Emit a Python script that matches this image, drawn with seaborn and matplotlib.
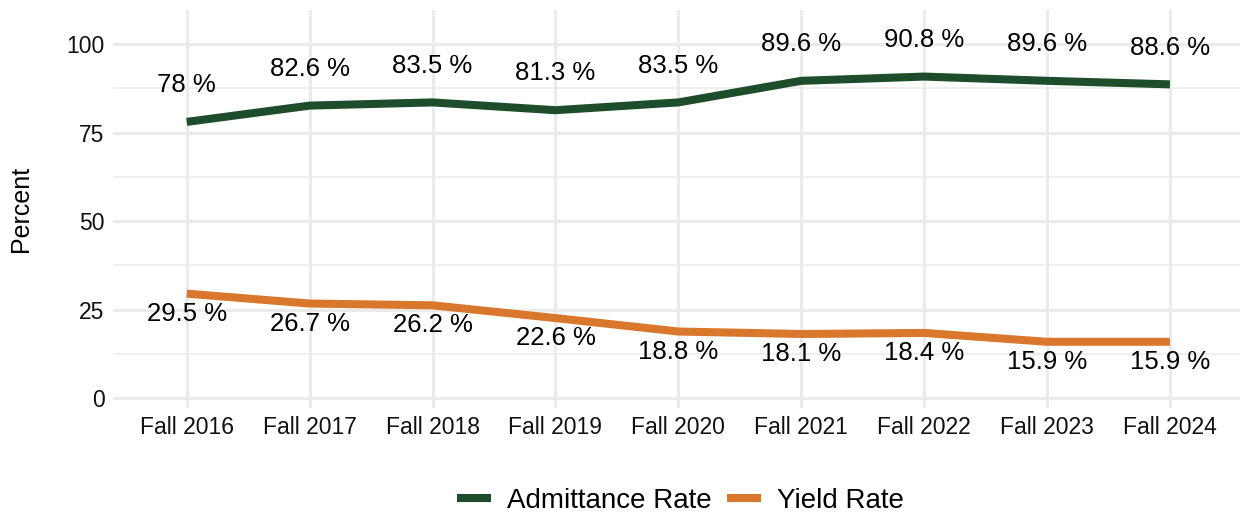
import matplotlib
matplotlib.use("Agg")
import matplotlib.pyplot as plt
import numpy as np
import pandas as pd
import seaborn as sns
from matplotlib.lines import Line2D
from matplotlib.ticker import MultipleLocator

terms = ["Fall 2016", "Fall 2017", "Fall 2018", "Fall 2019", "Fall 2020",
         "Fall 2021", "Fall 2022", "Fall 2023", "Fall 2024"]
admit_rate = [78, 82.6, 83.5, 81.3, 83.5, 89.6, 90.8, 89.6, 88.6]
yield_rate = [29.5, 26.7, 26.2, 22.6, 18.8, 18.1, 18.4, 15.9, 15.9]
series_names = ["Admittance Rate", "Yield Rate"]

GREEN = "#1E4D2B"
ORANGE = "#D9782D"

df = pd.DataFrame({
    "term": terms * 2,
    "x": list(range(len(terms))) * 2,
    "rate": admit_rate + yield_rate,
    "series": [series_names[0]] * len(terms) + [series_names[1]] * len(terms),
})

sns.set_theme(style="whitegrid")
plt.rcParams["font.family"] = ["Liberation Sans", "DejaVu Sans"]

fig = plt.figure(figsize=(12.41, 5.14), dpi=100)
ax = fig.add_axes([113 / 1241, 1 - 408 / 514, (1240 - 113) / 1241, 398 / 514])

sns.lineplot(data=df, x="x", y="rate", hue="series", palette=[GREEN, ORANGE],
             linewidth=5.8, ax=ax, legend=False, solid_capstyle="butt")

# value labels: admittance above the line, yield below
for i, v in enumerate(admit_rate):
    ax.annotate(f"{v:g} %", (i, v), xytext=(0, 26.5), textcoords="offset points",
                ha="center", va="center", fontsize=18.5, color="black")
for i, v in enumerate(yield_rate):
    ax.annotate(f"{v:g} %", (i, v), xytext=(0, -14.5), textcoords="offset points",
                ha="center", va="center", fontsize=18.5, color="black")

ax.set_xlim(-0.6, 8.57)
ax.set_ylim(-2.8, 109.6)
ax.set_xticks(range(len(terms)))
ax.set_xticklabels(terms)
ax.set_yticks([0, 25, 50, 75, 100])
ax.yaxis.set_minor_locator(MultipleLocator(12.5))
ax.set_facecolor("white")
ax.grid(which="major", color="#EBEBEB", linewidth=2.2)
ax.grid(which="minor", axis="y", color="#EBEBEB", linewidth=1.1)
for s in ax.spines.values():
    s.set_visible(False)
ax.tick_params(axis="both", which="both", length=0, labelsize=16.5, colors="#111111", pad=6)
ax.set_xlabel("")
ax.set_ylabel("Percent", fontsize=18, labelpad=24, color="black")

handles = [Line2D([0], [0], color=GREEN, linewidth=5.8, solid_capstyle="butt"),
           Line2D([0], [0], color=ORANGE, linewidth=5.8, solid_capstyle="butt")]
leg = fig.legend(handles, series_names, loc="center", bbox_to_anchor=(0.548, 1 - 501 / 514),
                 ncol=2, frameon=False, fontsize=20, handlelength=1.25, columnspacing=0.55,
                 handletextpad=0.55)
for t in leg.get_texts():
    t.set_color("black")

fig.savefig("out.png", dpi=100)
